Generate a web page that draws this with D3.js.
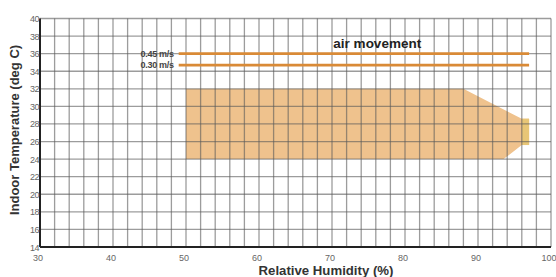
<!DOCTYPE html>
<html><head><meta charset="utf-8">
<script src="https://cdn.jsdelivr.net/npm/d3@7/dist/d3.min.js"></script>
<style>body{margin:0;background:#fff}svg{display:block}</style>
</head><body>
<script>
// Data
const xTicks = [30, 40, 50, 60, 70, 80, 90, 100];
const yTicks = [14, 16, 18, 20, 22, 24, 26, 28, 30, 32, 34, 36, 38, 40];
const comfortZone = [[50, 32], [88, 32], [96, 28.6], [97, 28.6], [97, 25.6], [96, 25.6], [93.5, 24], [50, 24]];
const edgeStrip = [[96, 28.6], [97, 28.6], [97, 25.6], [96, 25.6]];
const airLines = [
  { label: "0.45 m/s", temp: 36, from: 49, to: 97 },
  { label: "0.30 m/s", temp: 34.7, from: 49, to: 97 }
];
const annotation = { text: "air movement", rh: 76.2, temp: 37.1 };

const W = 556, H = 277;
const svg = d3.select("body").append("svg").attr("width", W).attr("height", H);
const x = d3.scaleLinear().domain([30, 100]).range([40, 551]);
const y = d3.scaleLinear().domain([14, 40]).range([247, 18.5]);
const font = "Liberation Sans, Arial, sans-serif";

// comfort zone
const line = d3.line().x(d => x(d[0])).y(d => y(d[1]));
svg.append("path").attr("d", line(comfortZone) + "Z").attr("fill", "#efc28d");
svg.append("path").attr("d", line(edgeStrip) + "Z").attr("fill", "#e8c676");

// grid
const gridX = d3.range(30, 101, 2);
const gridY = d3.range(14, 41, 2);
svg.append("g").selectAll("line").data(gridX).join("line")
  .attr("x1", d => x(d)).attr("x2", d => x(d)).attr("y1", y(14)).attr("y2", y(40))
  .attr("stroke", "rgba(90,90,90,0.6)").attr("stroke-width", 1.3);
svg.append("g").selectAll("line").data(gridY).join("line")
  .attr("y1", d => y(d)).attr("y2", d => y(d)).attr("x1", x(30)).attr("x2", x(100))
  .attr("stroke", "rgba(90,90,90,0.6)").attr("stroke-width", 1.3);

// axes lines
svg.append("line").attr("x1", x(30)).attr("x2", x(30)).attr("y1", y(40)).attr("y2", y(14))
  .attr("stroke", "#222").attr("stroke-width", 2);
svg.append("line").attr("x1", x(30)).attr("x2", x(100)).attr("y1", y(14)).attr("y2", y(14))
  .attr("stroke", "#222").attr("stroke-width", 2);

// air movement lines
svg.append("g").selectAll("line").data(airLines).join("line")
  .attr("x1", d => x(d.from)).attr("x2", d => x(d.to))
  .attr("y1", d => y(d.temp)).attr("y2", d => y(d.temp))
  .attr("stroke", "#d98a36").attr("stroke-width", 2.6);
svg.append("g").selectAll("text").data(airLines).join("text")
  .attr("x", d => x(d.from) - 5).attr("y", d => y(d.temp) + 3)
  .attr("text-anchor", "end").attr("font-family", font)
  .attr("font-size", 9).attr("font-weight", "bold").attr("fill", "#444")
  .attr("letter-spacing", -0.3)
  .text(d => d.label);
svg.append("text").attr("x", x(annotation.rh)).attr("y", y(annotation.temp) + 4.5)
  .attr("text-anchor", "middle").attr("font-family", font)
  .attr("font-size", 13.5).attr("font-weight", "bold").attr("fill", "#222")
  .text(annotation.text);

// tick labels
svg.append("g").selectAll("text").data(yTicks).join("text")
  .attr("x", 39).attr("y", d => y(d) + 3.5)
  .attr("text-anchor", "end").attr("font-family", font).attr("font-size", 9)
  .attr("fill", "#666").attr("letter-spacing", -0.5).text(d => d);
svg.append("g").selectAll("text").data(xTicks).join("text")
  .attr("x", d => x(d) - 2).attr("y", 261)
  .attr("text-anchor", "middle").attr("font-family", font).attr("font-size", 9)
  .attr("fill", "#666").text(d => d);

// axis titles
svg.append("text").attr("x", 326).attr("y", 275).attr("text-anchor", "middle")
  .attr("font-family", font).attr("font-size", 13.2).attr("font-weight", "bold").attr("fill", "#333")
  .text("Relative Humidity (%)");
svg.append("text").attr("transform", "translate(19,130) rotate(-90)")
  .attr("text-anchor", "middle").attr("font-family", font).attr("font-size", 13)
  .attr("font-weight", "bold").attr("fill", "#333")
  .text("Indoor Temperature (deg C)");
</script>
</body></html>
